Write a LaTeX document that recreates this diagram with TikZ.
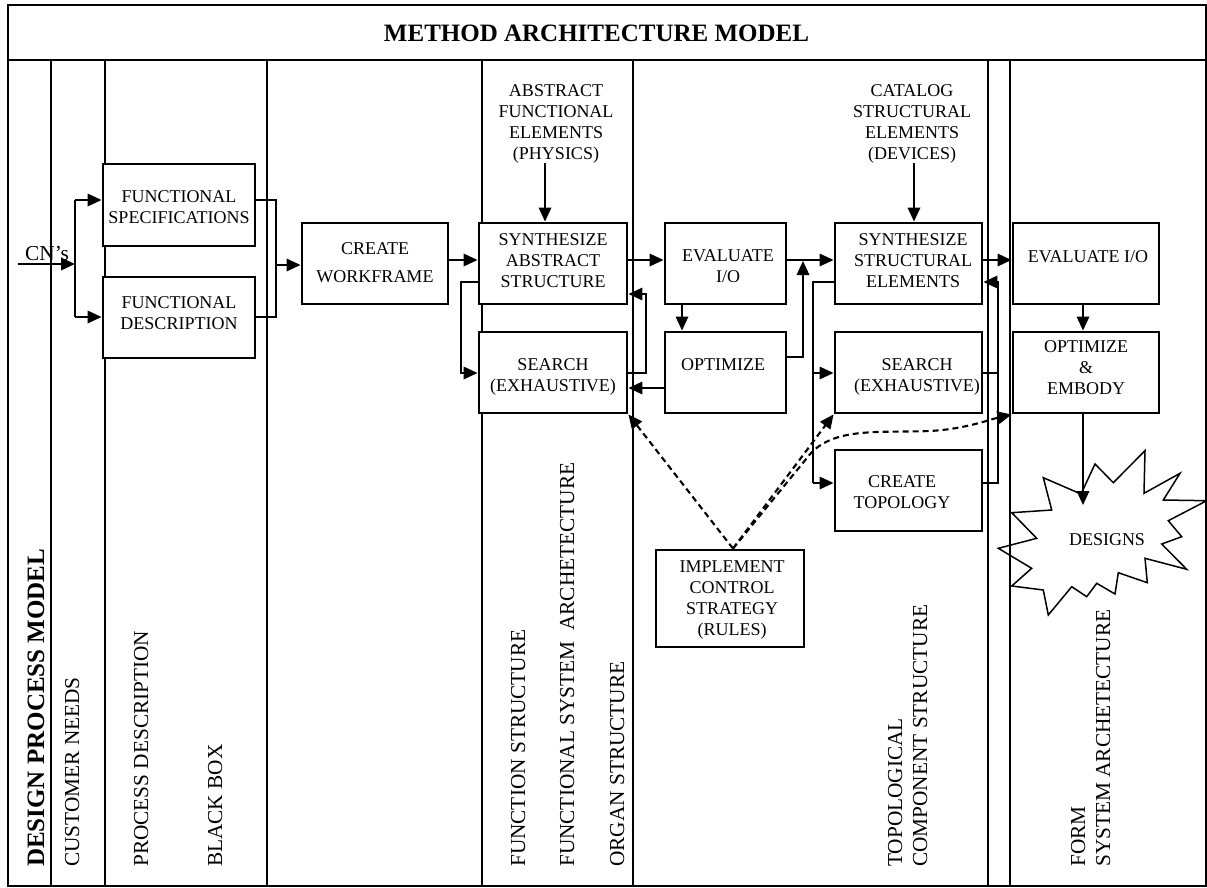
\documentclass[tikz,border=0pt]{standalone}
\usepackage{fontspec}
\setmainfont{Liberation Serif}
\usetikzlibrary{arrows.meta}
\newcommand\boxfont{\fontsize{18}{21}\selectfont}
\newcommand\colfont{\fontsize{21.3}{25}\selectfont}
\newcommand\headfont{\bfseries\fontsize{25}{30}\selectfont}

\begin{document}
\begin{tikzpicture}[x=1pt,y=-1pt,
  frame/.style={line width=2.4pt},
  colline/.style={line width=1.7pt},
  box/.style={draw,line width=2.9pt,fill=white,inner sep=0pt},
  boxtext/.style={align=center,font=\boxfont,inner sep=0pt},
  collabel/.style={font=\colfont,inner sep=0pt,anchor=base west,rotate=90},
  conn/.style={line width=1.8pt},
  arr/.style={conn,-{Triangle[length=14pt,width=12.5pt]}},
  ctrl/.style={line width=2.1pt,dash pattern=on 6pt off 4pt,-{Triangle[length=14pt,width=12.5pt]}}
]
\useasboundingbox (0,0) rectangle (1207,888);

% outer frame and title bar
\draw[frame] (8,5) rectangle (1206,886);
\draw[frame] (8,60) -- (1206,60);
\node[font=\headfont,inner sep=0pt] (title) at (596.5,33) {METHOD ARCHITECTURE MODEL};

% column separators
\foreach \cx in {51,105,267,482,633,988,1010}
  \draw[colline] (\cx,60) -- (\cx,886);

% rotated column headings
\node[collabel,font=\headfont] (dpm) at (44,867) {DESIGN PROCESS MODEL};
\node[collabel] (cneeds) at (79,867) {CUSTOMER NEEDS};
\node[collabel] (pdesc) at (148,867) {PROCESS DESCRIPTION};
\node[collabel] (bbox) at (222,867) {BLACK BOX};
\node[collabel] (fstruct) at (525,867) {FUNCTION STRUCTURE};
\node[collabel] (fsa) at (574,867) {FUNCTIONAL SYSTEM\ \ ARCHETECTURE};
\node[collabel] (organ) at (624,867) {ORGAN STRUCTURE};
\node[collabel] (topo) at (902,867) {TOPOLOGICAL};
\node[collabel] (comp) at (927,867) {COMPONENT STRUCTURE};
\node[collabel] (form) at (1085,867) {FORM};
\node[collabel] (sysarch) at (1110,867) {SYSTEM ARCHETECTURE};

% process boxes
\node[box,minimum width=152pt,minimum height=82pt] (fs) at (179,205) {};
\node[box,minimum width=152pt,minimum height=81pt] (fd) at (179,317.5) {};
\node[box,minimum width=146pt,minimum height=81pt] (cw) at (375,263.5) {};
\node[box,minimum width=148pt,minimum height=81pt] (sa) at (553,263.5) {};
\node[box,minimum width=148pt,minimum height=81pt] (sl) at (553,372.5) {};
\node[box,minimum width=121pt,minimum height=81pt] (ev) at (725.5,263.5) {};
\node[box,minimum width=121pt,minimum height=81pt] (op) at (725.5,372.5) {};
\node[box,minimum width=147pt,minimum height=81pt] (ss) at (908.5,263.5) {};
\node[box,minimum width=147pt,minimum height=81pt] (sr) at (908.5,372.5) {};
\node[box,minimum width=147pt,minimum height=81pt] (ct) at (908.5,490.5) {};
\node[box,minimum width=146pt,minimum height=81pt] (ev2) at (1086,263.5) {};
\node[box,minimum width=146pt,minimum height=81pt] (ome) at (1086,372.5) {};
\node[box,minimum width=148pt,minimum height=97pt] (ics) at (730,598.5) {};

% box captions
\node[boxtext] (fs-t) at (179,207) {FUNCTIONAL\\SPECIFICATIONS};
\node[boxtext] (fd-t) at (179,313) {FUNCTIONAL\\DESCRIPTION};
\node[boxtext] (cw-t) at (375,263) {CREATE\\[7pt]WORKFRAME};
\node[boxtext] (sa-t) at (553,260.5) {SYNTHESIZE\\ABSTRACT\\STRUCTURE};
\node[boxtext] (sl-t) at (553,377) {SEARCH\\(EXHAUSTIVE)};
\node[boxtext] (ev-t) at (728,266.5) {EVALUATE\\I/O};
\node[boxtext] (op-t) at (723,365) {OPTIMIZE};
\node[boxtext] (ss-t) at (913,260.5) {SYNTHESIZE\\STRUCTURAL\\ELEMENTS};
\node[boxtext] (sr-t) at (917,377) {SEARCH\\(EXHAUSTIVE)};
\node[boxtext] (ct-t) at (902,492.5) {CREATE\\TOPOLOGY};
\node[boxtext] (ev2-t) at (1088,257) {EVALUATE I/O};
\node[boxtext] (ome-t) at (1086,368) {OPTIMIZE\\\&\\EMBODY};
\node[boxtext] (ics-t) at (732,600) {IMPLEMENT\\CONTROL\\STRATEGY\\(RULES)};

% element catalogues above the synthesis steps
\node[boxtext] (absel) at (556,123.5) {ABSTRACT\\FUNCTIONAL\\ELEMENTS\\(PHYSICS)};
\node[boxtext] (catel) at (912,123.5) {CATALOG\\STRUCTURAL\\ELEMENTS\\(DEVICES)};
\coordinate (absx) at (545,0);
\coordinate (catx) at (914,0);
\draw[arr] (absel.south -| absx) -- (sa.north -| absx);
\draw[arr] (catel.south -| catx) -- (ss.north -| catx);

% customer needs input
\node[font=\colfont,inner sep=0pt,anchor=base west] (cnlab) at (25,260) {CN’s};
\coordinate (cn0) at (18,264);
\coordinate (cnj) at (75,264);
\coordinate (bt) at (75,200);
\coordinate (bb) at (75,317);
\draw[arr] (cn0) -- (cnj);
\draw[conn] (bt) -- (bb);
\draw[arr] (bt) -- (fs.west |- bt);
\draw[arr] (bb) -- (fd.west |- bb);

% merge into workframe
\coordinate (mt) at (276,200);
\coordinate (mb) at (276,317);
\coordinate (mm) at (276,265);
\draw[conn] (fs.east |- mt) -- (mt) -- (mb) -- (fd.east |- mb);
\draw[arr] (mm) -- (cw.west |- mm);

% main row
\coordinate (row) at (0,260);
\draw[arr] (cw.east |- row) -- (sa.west |- row);
\draw[arr] (sa.east |- row) -- (ev.west |- row);
\draw[arr] (ev.east |- row) -- (ss.west |- row);
\draw[arr] (ss.east |- row) -- (ev2.west |- row);

% abstract synthesis / search loop
\coordinate (fa) at (461,282);
\coordinate (fb) at (461,373);
\draw[arr] (sa.west |- fa) -- (fa) -- (fb) -- (sl.west |- fb);
\coordinate (ga) at (646,373);
\coordinate (gb) at (646,294);
\draw[arr] (sl.east |- ga) -- (ga) -- (gb) -- (sa.east |- gb);
\coordinate (ha) at (0,388);
\draw[arr] (op.west |- ha) -- (sl.east |- ha);
\coordinate (evx) at (682,0);
\draw[arr] (ev.south -| evx) -- (op.north -| evx);
\coordinate (oj1) at (803,357);
\coordinate (oj2) at (803,261);
\draw[arr] (op.east |- oj1) -- (oj1) -- (oj2);

% structural synthesis branches
\coordinate (ka) at (813,282);
\coordinate (kb) at (813,373);
\coordinate (kc) at (813,483);
\draw[conn] (ss.west |- ka) -- (ka) -- (kc);
\draw[arr] (kb) -- (sr.west |- kb);
\draw[arr] (kc) -- (ct.west |- kc);
\coordinate (la) at (998,373);
\coordinate (lb) at (998,483);
\coordinate (lc) at (998,282);
\draw[conn] (sr.east |- la) -- (la);
\draw[arr] (ct.east |- lb) -- (lb) -- (lc) -- (ss.east |- lc);

% embodiment
\coordinate (emx) at (1083,0);
\draw[arr] (ev2.south -| emx) -- (ome.north -| emx);
\coordinate (desin) at (1083,505);
\draw[arr] (ome.south -| emx) -- (desin);

% designs burst
\draw[line width=1.5pt] (1043.3,477.7) -- (1081,494) -- (1095,464) -- (1113.3,482.7)
  -- (1145,450.7) -- (1144,493.3) -- (1180,473.3) -- (1163.3,500) -- (1206.7,500.7)
  -- (1168.3,520.7) -- (1181.7,536.7) -- (1161.7,544) -- (1186.7,569.3) -- (1145,558.3)
  -- (1147.3,582.7) -- (1118.3,572.7) -- (1115,594) -- (1096.7,583.3) -- (1086.7,596.7)
  -- (1071.7,586.7) -- (1048.3,615) -- (1043.3,590) -- (1011.7,586) -- (1031.7,568.3)
  -- (998.3,548.3) -- (1036.7,538.3) -- (1011.7,512.7) -- (1051.7,510) -- cycle;
\node[boxtext] (des) at (1107,540) {DESIGNS};

% control strategy links
\coordinate (ics0) at ([xshift=3pt]ics.north);
\coordinate (cv1) at (811,453);
\coordinate (cv2) at (930,431);
\draw[ctrl] (ics0) -- (sl.south east);
\draw[ctrl] (ics0) -- (sr.south west);
\draw[ctrl] (ics0) -- (cv1) .. controls (836,427) and (880,433) .. (cv2)
  .. controls (965,429) and (988,420) .. (ome.south west);
\end{tikzpicture}
\end{document}
